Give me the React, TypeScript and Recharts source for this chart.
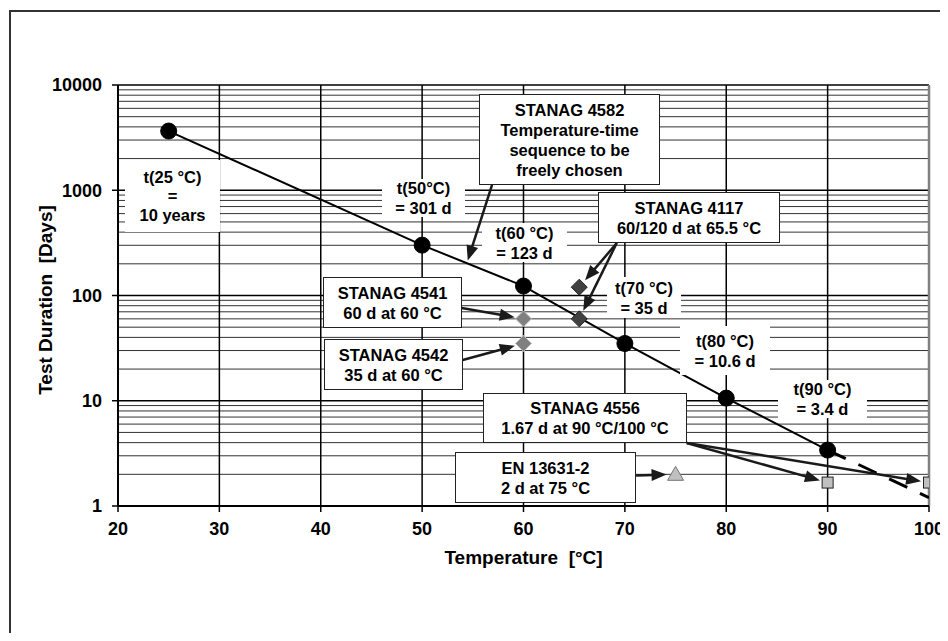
import React from 'react';
import {
  ComposedChart,
  Line,
  Scatter,
  XAxis,
  YAxis,
  CartesianGrid,
  ReferenceLine,
  Label,
} from 'recharts';

const FONT = '"Liberation Sans", Arial, Helvetica, sans-serif';

// t(T) curve, temperature [°C] vs test duration [days]
const curveTemps = [25, 50, 60, 70, 80, 90];
const curveDays = [3652, 301, 123, 35, 10.6, 3.4];
const extrapTemps = [90, 100];
const extrapDays = [3.4, 1.2];

// standard test conditions
const s4117Temps = [65.5, 65.5];
const s4117Days = [120, 60];
const s4541Temps = [60];
const s4541Days = [60];
const s4542Temps = [60];
const s4542Days = [35];
const s4556Temps = [90, 100];
const s4556Days = [1.67, 1.67];
const enTemps = [75];
const enDays = [2];

const xTicks = [20, 30, 40, 50, 60, 70, 80, 90, 100];
const xGrid = [30, 40, 50, 60, 70, 80, 90];
const yTicks = [1, 10, 100, 1000, 10000];
const yMinor = [
  2, 3, 4, 5, 6, 7, 8, 9,
  20, 30, 40, 50, 60, 70, 80, 90,
  200, 300, 400, 500, 600, 700, 800, 900,
  2000, 3000, 4000, 5000, 6000, 7000, 8000, 9000,
];

const toPoints = (ts: number[], ds: number[]) => ts.map((t, i) => ({ t, d: ds[i] }));

const curveData = toPoints(curveTemps, curveDays);
const extrapData = toPoints(extrapTemps, extrapDays);
const s4117Data = toPoints(s4117Temps, s4117Days);
const s4541Data = toPoints(s4541Temps, s4541Days);
const s4542Data = toPoints(s4542Temps, s4542Days);
const s4556Data = toPoints(s4556Temps, s4556Days);
const enData = toPoints(enTemps, enDays);

// arrows: start in data coords, end at a marker
const arrows = [
  { from: { x: 56.9, y: 1122 }, to: { t: 54.5, d: 215 }, gap: 0 },
  { from: { x: 69.2, y: 315 }, to: s4117Data[0], gap: 9 },
  { from: { x: 69.2, y: 315 }, to: s4117Data[1], gap: 9 },
  { from: { x: 53.9, y: 76 }, to: s4541Data[0], gap: 9 },
  { from: { x: 54.0, y: 24.4 }, to: s4542Data[0], gap: 9 },
  { from: { x: 76.1, y: 3.97 }, to: s4556Data[0], gap: 8 },
  { from: { x: 76.1, y: 3.97 }, to: s4556Data[1], gap: 8 },
  { from: { x: 71.1, y: 1.95 }, to: enData[0], gap: 9 },
];

// text boxes (pixel layout)
const boxes = [
  { lines: ['STANAG 4582', 'Temperature-time', 'sequence to be', 'freely chosen'], left: 471, top: 86, w: 181, h: 91, border: true },
  { lines: ['t(25 °C)', '=', '10 years'], left: 117, top: 152, w: 95, h: 72, border: false },
  { lines: ['t(50°C)', '= 301 d'], left: 374, top: 171, w: 83, h: 38, border: false },
  { lines: ['t(60 °C)', '= 123 d'], left: 474, top: 215, w: 85, h: 39, border: false },
  { lines: ['STANAG 4117', '60/120 d at 65.5 °C'], left: 590, top: 184, w: 182, h: 51, border: true },
  { lines: ['t(70 °C)', '= 35 d'], left: 599, top: 269, w: 74, h: 41, border: false },
  { lines: ['STANAG 4541', '60 d at 60 °C'], left: 315, top: 269, w: 139, h: 51, border: true },
  { lines: ['STANAG 4542', '35 d at 60 °C'], left: 316, top: 331, w: 139, h: 51, border: true },
  { lines: ['t(80 °C)', '= 10.6 d'], left: 672, top: 318, w: 90, h: 49, border: false },
  { lines: ['t(90 °C)', '= 3.4 d'], left: 770, top: 372, w: 89, h: 38, border: false },
  { lines: ['STANAG 4556', '1.67 d at 90 °C/100 °C'], left: 475, top: 385, w: 204, h: 50, border: true },
  { lines: ['EN 13631-2', '2 d at 75 °C'], left: 447, top: 444, w: 181, h: 51, border: true },
];

const arrowShape = (gap: number) => (p: any) => {
  const { x1, y1, x2, y2 } = p;
  const dx = x2 - x1;
  const dy = y2 - y1;
  const len = Math.hypot(dx, dy) || 1;
  const ux = dx / len;
  const uy = dy / len;
  const tx = x2 - ux * gap;
  const ty = y2 - uy * gap;
  const hl = 15;
  const hw = 6;
  const bx = tx - ux * hl;
  const by = ty - uy * hl;
  return (
    <g>
      <line x1={x1} y1={y1} x2={bx + ux * 2} y2={by + uy * 2} stroke="#1a1a1a" strokeWidth={2.5} />
      <polygon
        points={`${tx},${ty} ${bx - uy * hw},${by + ux * hw} ${bx + uy * hw},${by - ux * hw}`}
        fill="#1a1a1a"
      />
    </g>
  );
};

const diamond = (fill: string, stroke: string) => (p: any) => {
  const { cx, cy } = p;
  const r = 8;
  return (
    <path
      d={`M${cx},${cy - r}L${cx + r},${cy}L${cx},${cy + r}L${cx - r},${cy}Z`}
      fill={fill}
      stroke={stroke}
      strokeWidth={1}
    />
  );
};

const square = (p: any) => {
  const { cx, cy } = p;
  return <rect x={cx - 5.5} y={cy - 5.5} width={11} height={11} fill="#c0c0c0" stroke="#222" strokeWidth={1} />;
};

const triangle = (p: any) => {
  const { cx, cy } = p;
  return (
    <path
      d={`M${cx},${cy - 8}L${cx + 8},${cy + 6}L${cx - 8},${cy + 6}Z`}
      fill="#c0c0c0"
      stroke="#777"
      strokeWidth={1}
    />
  );
};

const tickStyle = { fill: '#000', fontSize: 18, fontWeight: 700, fontFamily: FONT };

export default function App() {
  return (
    <div style={{ position: 'relative', width: 1000, height: 625, overflow: 'hidden', fontFamily: FONT }}>
      <style>{'html, body { overflow: hidden; }'}</style>
      <div
        style={{
          position: 'absolute',
          left: 1,
          top: 2,
          width: 2000,
          height: 2000,
          borderLeft: '2px solid #333',
          borderTop: '2px solid #333',
        }}
      />
      <div style={{ position: 'absolute', left: 0, top: 0 }}>
        <ComposedChart width={960} height={625} margin={{ top: 77, right: 39, bottom: 47, left: 30 }}>
          <CartesianGrid horizontalValues={yMinor} vertical={false} stroke="#333" strokeWidth={1} />
          <CartesianGrid horizontalValues={yTicks} verticalValues={xGrid} stroke="#000" strokeWidth={1.5} />
          <CartesianGrid verticalValues={[100]} horizontal={false} stroke="#808080" strokeWidth={2.5} />
          <XAxis
            type="number"
            dataKey="t"
            domain={[20, 100]}
            ticks={xTicks}
            interval={0}
            height={80}
            tick={tickStyle}
            tickSize={6}
            tickMargin={10}
            axisLine={{ stroke: '#000', strokeWidth: 2 }}
            tickLine={{ stroke: '#000', strokeWidth: 1.5 }}
            allowDataOverflow
          >
            <Label
              content={(p: any) => {
                const vb = p.viewBox || { x: 110, y: 498, width: 811 };
                return (
                  <text
                    x={vb.x + vb.width / 2}
                    y={vb.y + 58}
                    textAnchor="middle"
                    fontFamily={FONT}
                    fontSize={19}
                    fontWeight={700}
                    fill="#000"
                  >
                    {'Temperature\u00a0\u00a0[°C]'}
                  </text>
                );
              }}
            />
          </XAxis>
          <YAxis
            type="number"
            dataKey="d"
            scale="log"
            domain={[1, 10000]}
            ticks={yTicks}
            interval={0}
            width={80}
            tick={tickStyle}
            tickSize={6}
            tickMargin={10}
            axisLine={{ stroke: '#000', strokeWidth: 2 }}
            tickLine={{ stroke: '#000', strokeWidth: 1.5 }}
            allowDataOverflow
          >
            <Label
              content={() => (
                <text
                  x={37}
                  y={292}
                  transform="rotate(-90, 37, 292)"
                  textAnchor="middle"
                  dominantBaseline="central"
                  fontFamily={FONT}
                  fontSize={19}
                  fontWeight={700}
                  fill="#000"
                >
                  {'Test Duration\u00a0\u00a0[Days]'}
                </text>
              )}
            />
          </YAxis>
          <Line
            data={extrapData}
            dataKey="d"
            type="linear"
            stroke="#000"
            strokeWidth={3}
            strokeDasharray="20 14"
            dot={false}
            activeDot={false}
            isAnimationActive={false}
          />
          <Line
            data={curveData}
            dataKey="d"
            type="linear"
            stroke="#000"
            strokeWidth={2}
            dot={{ r: 8, fill: '#000', stroke: '#000', strokeWidth: 1 }}
            activeDot={false}
            isAnimationActive={false}
          />
          <Scatter data={s4117Data} shape={diamond('#404040', '#222')} isAnimationActive={false} />
          <Scatter data={s4541Data} shape={diamond('#808080', '#c0c0c0')} isAnimationActive={false} />
          <Scatter data={s4542Data} shape={diamond('#808080', '#c0c0c0')} isAnimationActive={false} />
          <Scatter data={s4556Data} shape={square} isAnimationActive={false} />
          <Scatter data={enData} shape={triangle} isAnimationActive={false} />
          {arrows.map((a, i) => (
            <ReferenceLine
              key={i}
              segment={[a.from, { x: a.to.t, y: a.to.d }]}
              ifOverflow="visible"
              shape={arrowShape(a.gap)}
            />
          ))}
        </ComposedChart>
      </div>
      {boxes.map((b, i) => (
        <div
          key={i}
          style={{
            position: 'absolute',
            left: b.left,
            top: b.top,
            width: b.w,
            height: b.h,
            boxSizing: 'border-box',
            background: '#fff',
            border: b.border ? '1.5px solid #222' : 'none',
            display: 'flex',
            flexDirection: 'column',
            justifyContent: 'center',
            alignItems: 'center',
            fontFamily: FONT,
            fontWeight: 700,
            fontSize: 16.5,
            lineHeight: b.lines.length === 3 && !b.border ? '19px' : '20px',
            color: '#000',
            textAlign: 'center',
            whiteSpace: 'nowrap',
          }}
        >
          {b.lines.map((l, j) => (
            <div key={j}>{l}</div>
          ))}
        </div>
      ))}
    </div>
  );
}
